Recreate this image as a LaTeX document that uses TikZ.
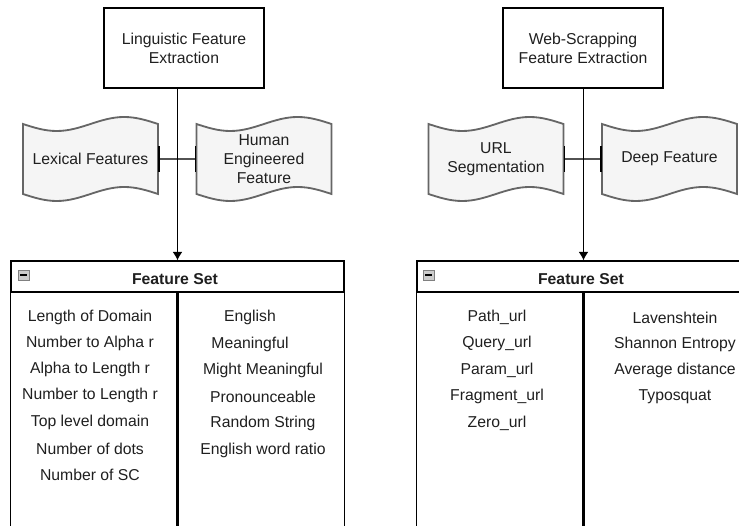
\documentclass[tikz,border=0pt]{standalone}
\usepackage{fontspec}
\setmainfont{Liberation Sans}
\usetikzlibrary{arrows,arrows.meta,calc,backgrounds}
\definecolor{txt}{HTML}{1F1F1F}
\definecolor{tapefill}{HTML}{F5F5F5}
\definecolor{tapeline}{HTML}{666666}
\tikzstyle{procbox}=[draw,line width=0.9pt,minimum width=4cm,minimum height=2cm,align=center]
\tikzstyle{tapebox}=[minimum width=3.375cm,minimum height=1.75cm,inner sep=1pt,outer sep=0pt,align=center]
\tikzstyle{tapeshape}=[draw=tapeline,fill=tapefill,line width=1.3pt]
\tikzstyle{tapelink}=[draw=tapeline!80!black,line width=1.2pt,{Bar[width=18pt,black]}-{Bar[width=18pt,black]}]
\tikzstyle{flowarrow}=[draw,line width=0.9pt,-{Latex[length=6pt,width=7pt]}]
\tikzstyle{sethead}=[draw,line width=0.9pt,minimum width=8.325cm,minimum height=0.775cm,inner sep=0pt]
\tikzstyle{setline}=[draw,line width=0.9pt]
\tikzstyle{setdiv}=[draw,line width=1.8pt]
\tikzstyle{item}=[yshift=-1.4pt]
\tikzstyle{minusbox}=[draw=gray,fill=black!20,line width=0.6pt,minimum width=0.275cm,minimum height=0.25cm,inner sep=0pt]

\begin{document}
\begin{tikzpicture}[x=0.025cm,y=-0.025cm,font=\fontsize{11.2}{13.5}\selectfont,text=txt]
    \useasboundingbox (0,0) rectangle (739,526);

    % the two extraction steps
    \node[procbox] (ling) at (184,48) {Linguistic Feature\\Extraction};
    \node[procbox] (web) at (583,48) {Web-Scrapping\\Feature Extraction};

    % the wavy feature groups
    \foreach \pos/\name/\txt in {{(90.5,159)/lex/Lexical Features},{(264,159)/hum/Human\\Engineered\\Feature},
                                 {(496,159)/url/URL\\Segmentation},{(669.5,159)/deep/Deep Feature}}
        \node[tapebox] (\name) at \pos {\txt};

    \begin{pgfonlayer}{background}
    \foreach \name in {lex,hum,url,deep}
        \path[tapeshape] (\name.north west) sin ++(33.75,7) cos ++(33.75,-7) sin ++(33.75,-7) cos ++(33.75,7)
            -- ++(0,70) sin ++(-33.75,-7) cos ++(-33.75,7) sin ++(-33.75,7) cos ++(-33.75,-7) -- cycle;
    \end{pgfonlayer}

    \path[tapelink] (lex.east) -- (hum.west);
    \path[tapelink] (url.east) -- (deep.west);

    % feature set tables
    \node[sethead] (lset) at (177.5,276.5) {};
    \node[sethead] (wset) at (583.5,276.5) {};
    \node[item] (ltitle) at (175,277) {\textbf{Feature Set}};
    \node[item] (wtitle) at (581,277) {\textbf{Feature Set}};
    \foreach \name in {lset,wset} {
        \path[setline] (\name.south west) -- ++(0,250);
        \path[setline] (\name.south east) -- ++(0,250);
        \path[setdiv] (\name.south) -- ++(0,250);
    }

    \node[minusbox] (lmin) at (23.5,275) {};
    \node[minusbox] (wmin) at (428.5,275) {};
    \foreach \name in {lmin,wmin}
        \draw[line width=0.8pt] ($(\name.west)+(2.5,0)$) -- ($(\name.east)+(-2.5,0)$);

    % arrows down to the tables
    \path[flowarrow] (lset.north |- ling.south) -- (lset.north);
    \path[flowarrow] (wset.north |- web.south) -- (wset.north);

    % linguistic features
    \foreach \txt [count=\i] in {Length of Domain,Number to Alpha r,Alpha to Length r,Number to Length r,
                                 Top level domain,Number of dots,Number of SC}
        \node[item] (lf\i) at (90,315+26.3*\i-26.3) {\txt};

    \foreach \pos/\name/\txt in {{(250,315)/hf1/English},{(250,342)/hf2/Meaningful},{(263,368)/hf3/Might Meaningful},
                                 {(263,395)/hf4/Pronounceable},{(263,421)/hf5/Random String},{(263,448)/hf6/English word ratio}}
        \node[item] (\name) at \pos {\txt};

    % web-scrapping features
    \foreach \txt [count=\i] in {Path\_url,Query\_url,Param\_url,Fragment\_url,Zero\_url}
        \node[item] (uf\i) at (497,315+26.5*\i-26.5) {\txt};

    \foreach \txt [count=\i] in {Lavenshtein,Shannon Entropy,Average distance,Typosquat}
        \node[item] (df\i) at (675,316+26.3*\i-26.3) {\txt};

\end{tikzpicture}
\end{document}
